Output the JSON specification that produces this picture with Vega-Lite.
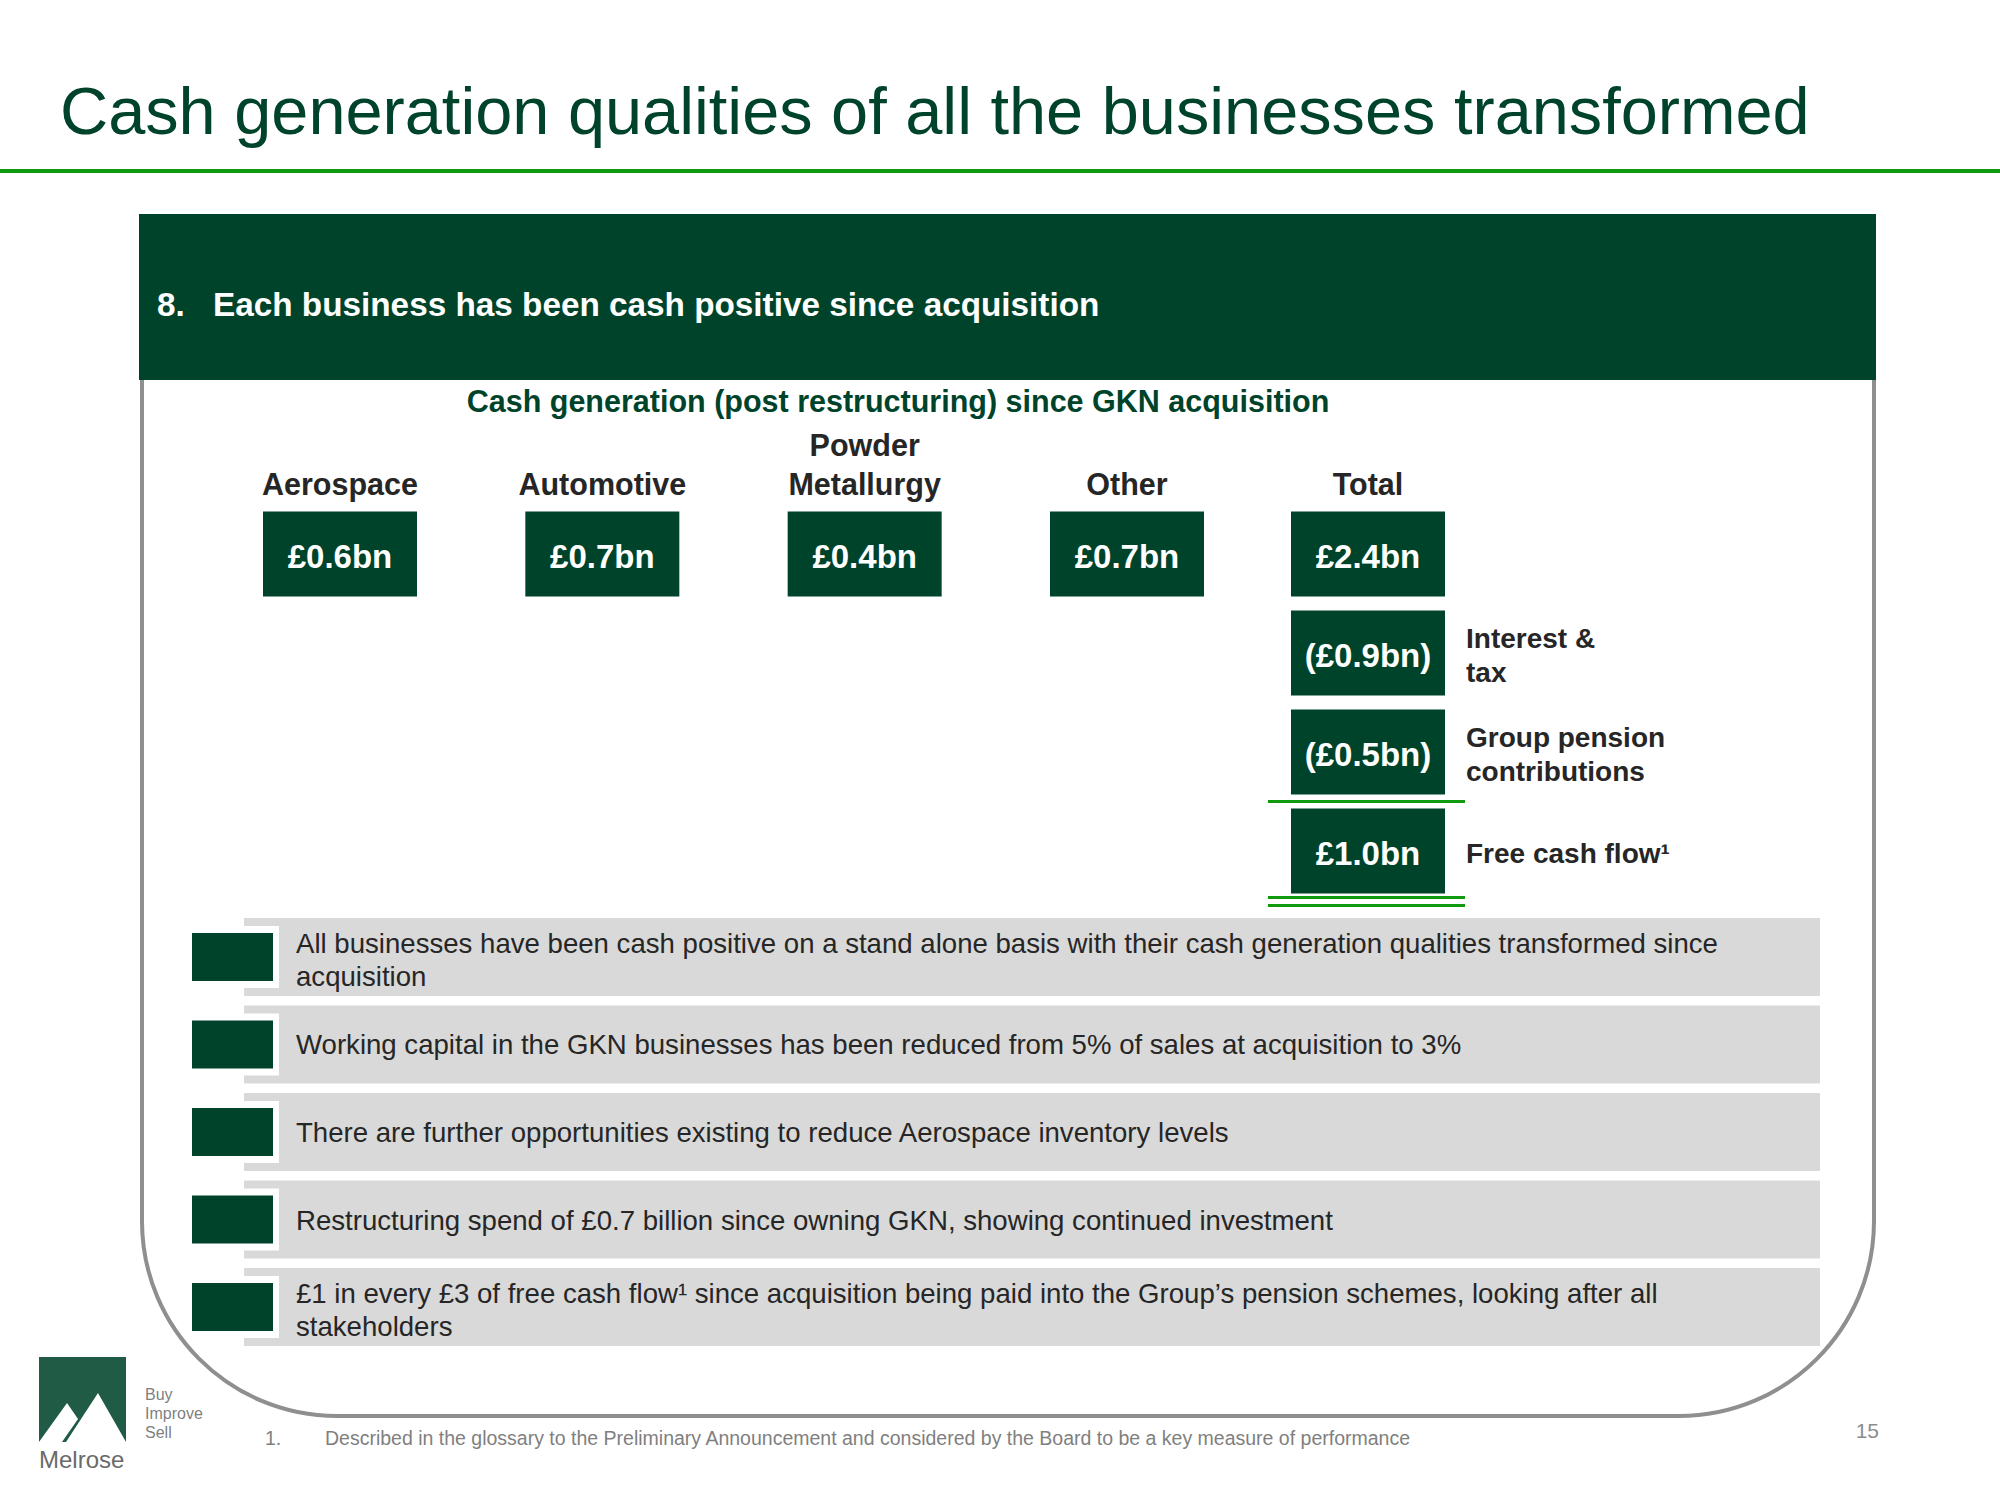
{
  "$schema": "https://vega.github.io/schema/vega-lite/v6.json",
  "width": 2000,
  "height": 1500,
  "padding": 0,
  "autosize": {"type": "none"},
  "background": "#ffffff",
  "config": {
    "view": {"stroke": null},
    "font": "Liberation Sans",
    "locale": {"number": {"decimal": ".", "thousands": ",", "grouping": [3], "currency": ["£", "bn"]}}
  },
  "datasets": {
    "cash": [
      {"segment": "Aerospace", "step": "Cash generation", "value": 0.6},
      {"segment": "Automotive", "step": "Cash generation", "value": 0.7},
      {"segment": "Powder Metallurgy", "step": "Cash generation", "value": 0.4},
      {"segment": "Other", "step": "Cash generation", "value": 0.7},
      {"segment": "Total", "step": "Cash generation", "value": 2.4},
      {"segment": "Total", "step": "Interest & tax", "value": -0.9, "note": "Interest &\ntax"},
      {"segment": "Total", "step": "Group pension contributions", "value": -0.5, "note": "Group pension\ncontributions"},
      {"segment": "Total", "step": "Free cash flow", "value": 1.0, "note": "Free cash flow¹"}
    ],
    "bullets": [
      {"order": 1, "text": "All businesses have been cash positive on a stand alone basis with their cash generation qualities transformed since\nacquisition"},
      {"order": 2, "text": "Working capital in the GKN businesses has been reduced from 5% of sales at acquisition to 3%"},
      {"order": 3, "text": "There are further opportunities existing to reduce Aerospace inventory levels"},
      {"order": 4, "text": "Restructuring spend of £0.7 billion since owning GKN, showing continued investment"},
      {"order": 5, "text": "£1 in every £3 of free cash flow¹ since acquisition being paid into the Group’s pension schemes, looking after all\nstakeholders"}
    ]
  },
  "layer": [
    {"data": {"values": [{}]}, "mark": {"type": "rect", "x": 0, "x2": 2000, "y": 169, "y2": 173, "fill": "#109A10"}},
    {"data": {"values": [{}]}, "mark": {"type": "text", "text": "Cash generation qualities of all the businesses transformed", "x": 60, "y": 134, "align": "left", "baseline": "alphabetic", "fontSize": 66.7, "fill": "#00432B"}},
    {"data": {"values": [{}]}, "mark": {"type": "rect", "x": 142, "x2": 1874, "y": 300, "y2": 1416, "filled": false, "fill": null, "stroke": "#8F8F8F", "strokeWidth": 4, "cornerRadiusBottomLeft": 195, "cornerRadiusBottomRight": 195}},
    {"data": {"values": [{}]}, "mark": {"type": "rect", "x": 139, "x2": 1876, "y": 214, "y2": 380, "fill": "#00432B"}},
    {"data": {"values": [{}]}, "mark": {"type": "text", "text": "8.", "x": 157, "y": 316, "align": "left", "baseline": "alphabetic", "fontSize": 33.3, "fontWeight": "bold", "fill": "#ffffff"}},
    {"data": {"values": [{}]}, "mark": {"type": "text", "text": "Each business has been cash positive since acquisition", "x": 213, "y": 316, "align": "left", "baseline": "alphabetic", "fontSize": 33.3, "fontWeight": "bold", "fill": "#ffffff"}},
    {"data": {"values": [{}]}, "mark": {"type": "text", "text": "Cash generation (post restructuring) since GKN acquisition", "x": 898, "y": 412, "align": "center", "baseline": "alphabetic", "fontSize": 30.5, "fontWeight": "bold", "fill": "#00432B"}},

    {"data": {"name": "cash"}, "transform": [{"filter": "datum.segment != 'Total'"}],
     "mark": {"type": "point", "shape": "M-1,-0.552H1V0.552H-1Z", "size": 23716, "filled": true, "opacity": 1, "fill": "#00432B", "strokeWidth": 0},
     "encoding": {
       "x": {"field": "segment", "type": "nominal", "axis": null, "scale": {"type": "point", "domain": ["Aerospace", "Automotive", "Powder Metallurgy", "Other"], "range": [340, 1127], "padding": 0}},
       "y": {"field": "step", "type": "nominal", "axis": null, "scale": {"type": "point", "domain": ["Cash generation", "Interest & tax", "Group pension contributions", "Free cash flow"], "range": [554, 851], "padding": 0}}
     }},
    {"data": {"name": "cash"}, "transform": [{"filter": "datum.segment != 'Total'"}],
     "mark": {"type": "text", "align": "center", "baseline": "middle", "dy": 4, "fontSize": 33, "fontWeight": "bold", "fill": "#ffffff"},
     "encoding": {
       "x": {"field": "segment", "type": "nominal", "axis": null, "scale": {"type": "point", "domain": ["Aerospace", "Automotive", "Powder Metallurgy", "Other"], "range": [340, 1127], "padding": 0}},
       "y": {"field": "step", "type": "nominal", "axis": null, "scale": {"type": "point", "domain": ["Cash generation", "Interest & tax", "Group pension contributions", "Free cash flow"], "range": [554, 851], "padding": 0}},
       "text": {"field": "value", "type": "quantitative", "format": "($.1f"}
     }},
    {"data": {"name": "cash"}, "transform": [{"filter": "datum.segment != 'Total' && datum.segment != 'Powder Metallurgy'"}],
     "mark": {"type": "text", "align": "center", "baseline": "bottom", "dy": -53, "fontSize": 30.5, "fontWeight": "bold", "fill": "#262626"},
     "encoding": {
       "x": {"field": "segment", "type": "nominal", "axis": null, "scale": {"type": "point", "domain": ["Aerospace", "Automotive", "Powder Metallurgy", "Other"], "range": [340, 1127], "padding": 0}},
       "y": {"field": "step", "type": "nominal", "axis": null, "scale": {"type": "point", "domain": ["Cash generation", "Interest & tax", "Group pension contributions", "Free cash flow"], "range": [554, 851], "padding": 0}},
       "text": {"field": "segment", "type": "nominal"}
     }},
    {"data": {"name": "cash"}, "transform": [{"filter": "datum.segment == 'Powder Metallurgy'"}],
     "mark": {"type": "text", "align": "center", "baseline": "bottom", "dy": -92, "lineBreak": " ", "lineHeight": 39, "fontSize": 30.5, "fontWeight": "bold", "fill": "#262626"},
     "encoding": {
       "x": {"field": "segment", "type": "nominal", "axis": null, "scale": {"type": "point", "domain": ["Aerospace", "Automotive", "Powder Metallurgy", "Other"], "range": [340, 1127], "padding": 0}},
       "y": {"field": "step", "type": "nominal", "axis": null, "scale": {"type": "point", "domain": ["Cash generation", "Interest & tax", "Group pension contributions", "Free cash flow"], "range": [554, 851], "padding": 0}},
       "text": {"field": "segment", "type": "nominal"}
     }},

    {"data": {"name": "cash"}, "transform": [{"filter": "datum.segment == 'Total'"}],
     "mark": {"type": "point", "shape": "M-1,-0.552H1V0.552H-1Z", "size": 23716, "filled": true, "opacity": 1, "fill": "#00432B", "strokeWidth": 0},
     "encoding": {
       "x": {"field": "segment", "type": "nominal", "axis": null, "scale": {"type": "point", "domain": ["Total"], "range": [1368, 1368], "padding": 0}},
       "y": {"field": "step", "type": "nominal", "axis": null, "scale": {"type": "point", "domain": ["Cash generation", "Interest & tax", "Group pension contributions", "Free cash flow"], "range": [554, 851], "padding": 0}}
     }},
    {"data": {"name": "cash"}, "transform": [{"filter": "datum.segment == 'Total'"}],
     "mark": {"type": "text", "align": "center", "baseline": "middle", "dy": 4, "fontSize": 33, "fontWeight": "bold", "fill": "#ffffff"},
     "encoding": {
       "x": {"field": "segment", "type": "nominal", "axis": null, "scale": {"type": "point", "domain": ["Total"], "range": [1368, 1368], "padding": 0}},
       "y": {"field": "step", "type": "nominal", "axis": null, "scale": {"type": "point", "domain": ["Cash generation", "Interest & tax", "Group pension contributions", "Free cash flow"], "range": [554, 851], "padding": 0}},
       "text": {"field": "value", "type": "quantitative", "format": "($.1f"}
     }},
    {"data": {"name": "cash"}, "transform": [{"filter": "datum.segment == 'Total' && datum.step == 'Cash generation'"}],
     "mark": {"type": "text", "align": "center", "baseline": "bottom", "dy": -53, "fontSize": 30.5, "fontWeight": "bold", "fill": "#262626"},
     "encoding": {
       "x": {"field": "segment", "type": "nominal", "axis": null, "scale": {"type": "point", "domain": ["Total"], "range": [1368, 1368], "padding": 0}},
       "y": {"field": "step", "type": "nominal", "axis": null, "scale": {"type": "point", "domain": ["Cash generation", "Interest & tax", "Group pension contributions", "Free cash flow"], "range": [554, 851], "padding": 0}},
       "text": {"field": "segment", "type": "nominal"}
     }},
    {"data": {"name": "cash"}, "transform": [{"filter": "datum.segment == 'Total' && (datum.step == 'Interest & tax' || datum.step == 'Group pension contributions')"}],
     "mark": {"type": "text", "align": "left", "baseline": "middle", "dx": 98, "dy": -13, "lineBreak": "\n", "lineHeight": 34, "fontSize": 28, "fontWeight": "bold", "fill": "#262626"},
     "encoding": {
       "x": {"field": "segment", "type": "nominal", "axis": null, "scale": {"type": "point", "domain": ["Total"], "range": [1368, 1368], "padding": 0}},
       "y": {"field": "step", "type": "nominal", "axis": null, "scale": {"type": "point", "domain": ["Cash generation", "Interest & tax", "Group pension contributions", "Free cash flow"], "range": [554, 851], "padding": 0}},
       "text": {"field": "note", "type": "nominal"}
     }},
    {"data": {"name": "cash"}, "transform": [{"filter": "datum.segment == 'Total' && datum.step == 'Free cash flow'"}],
     "mark": {"type": "text", "align": "left", "baseline": "middle", "dx": 98, "dy": 4, "fontSize": 28, "fontWeight": "bold", "fill": "#262626"},
     "encoding": {
       "x": {"field": "segment", "type": "nominal", "axis": null, "scale": {"type": "point", "domain": ["Total"], "range": [1368, 1368], "padding": 0}},
       "y": {"field": "step", "type": "nominal", "axis": null, "scale": {"type": "point", "domain": ["Cash generation", "Interest & tax", "Group pension contributions", "Free cash flow"], "range": [554, 851], "padding": 0}},
       "text": {"field": "note", "type": "nominal"}
     }},
    {"data": {"values": [{}]}, "mark": {"type": "rect", "x": 1268, "x2": 1465, "y": 800, "y2": 803, "fill": "#109A10"}},
    {"data": {"values": [{}]}, "mark": {"type": "rect", "x": 1268, "x2": 1465, "y": 896, "y2": 899, "fill": "#109A10"}},
    {"data": {"values": [{}]}, "mark": {"type": "rect", "x": 1268, "x2": 1465, "y": 904, "y2": 907, "fill": "#109A10"}},

    {"data": {"name": "bullets"},
     "mark": {"type": "rect", "x": 244, "x2": 1820, "fill": "#D9D9D9"},
     "encoding": {
       "y": {"field": "order", "type": "ordinal", "axis": null, "scale": {"type": "band", "domain": [1, 2, 3, 4, 5], "range": [918, 1346], "paddingInner": 0.11, "paddingOuter": 0}}
     }},
    {"data": {"name": "bullets"},
     "mark": {"type": "point", "x": 232.5, "shape": "M-1,-0.667H1V0.667H-1Z", "size": 8649, "filled": true, "opacity": 1, "fill": "#ffffff", "strokeWidth": 0},
     "encoding": {
       "y": {"field": "order", "type": "ordinal", "axis": null, "scale": {"type": "band", "domain": [1, 2, 3, 4, 5], "range": [918, 1346], "paddingInner": 0.11, "paddingOuter": 0}}
     }},
    {"data": {"name": "bullets"},
     "mark": {"type": "point", "x": 232.5, "shape": "M-1,-0.593H1V0.593H-1Z", "size": 6561, "filled": true, "opacity": 1, "fill": "#00432B", "strokeWidth": 0},
     "encoding": {
       "y": {"field": "order", "type": "ordinal", "axis": null, "scale": {"type": "band", "domain": [1, 2, 3, 4, 5], "range": [918, 1346], "paddingInner": 0.11, "paddingOuter": 0}}
     }},
    {"data": {"name": "bullets"}, "transform": [{"filter": "!test(/\\n/, datum.text)"}],
     "mark": {"type": "text", "x": 296, "align": "left", "baseline": "middle", "dy": 2, "fontSize": 27.6, "fill": "#262626"},
     "encoding": {
       "y": {"field": "order", "type": "ordinal", "axis": null, "scale": {"type": "band", "domain": [1, 2, 3, 4, 5], "range": [918, 1346], "paddingInner": 0.11, "paddingOuter": 0}},
       "text": {"field": "text", "type": "nominal"}
     }},
    {"data": {"name": "bullets"}, "transform": [{"filter": "test(/\\n/, datum.text)"}],
     "mark": {"type": "text", "x": 296, "align": "left", "baseline": "middle", "dy": -12, "lineBreak": "\n", "lineHeight": 33, "fontSize": 27.6, "fill": "#262626"},
     "encoding": {
       "y": {"field": "order", "type": "ordinal", "axis": null, "scale": {"type": "band", "domain": [1, 2, 3, 4, 5], "range": [918, 1346], "paddingInner": 0.11, "paddingOuter": 0}},
       "text": {"field": "text", "type": "nominal"}
     }},

    {"data": {"values": [{}]}, "mark": {"type": "rect", "x": 39, "x2": 126, "y": 1357, "y2": 1442, "fill": "#1F5B45"}},
    {"data": {"values": [{}]}, "mark": {"type": "point", "x": 82.5, "y": 1399.5, "shape": "M-1,0.977L-0.356,0.08L-0.103,0.448L-0.471,0.977ZM-0.379,0.977L0.356,-0.149L1,0.977Z", "size": 7569, "filled": true, "opacity": 1, "fill": "#ffffff", "strokeWidth": 0}, "encoding": {}},
    {"data": {"values": [{}]}, "mark": {"type": "text", "text": "Melrose", "x": 39, "y": 1468, "align": "left", "baseline": "alphabetic", "fontSize": 24, "fill": "#6A6A6A"}},
    {"data": {"values": [{}]}, "mark": {"type": "text", "text": ["Buy", "Improve", "Sell"], "x": 145, "y": 1400, "align": "left", "baseline": "alphabetic", "lineHeight": 19, "fontSize": 16, "fill": "#7F7F7F"}},
    {"data": {"values": [{}]}, "mark": {"type": "text", "text": "1.", "x": 265, "y": 1445, "align": "left", "baseline": "alphabetic", "fontSize": 19.5, "fill": "#7F7F7F"}},
    {"data": {"values": [{}]}, "mark": {"type": "text", "text": "Described in the glossary to the Preliminary Announcement and considered by the Board to be a key measure of performance", "x": 325, "y": 1445, "align": "left", "baseline": "alphabetic", "fontSize": 19.5, "fill": "#7F7F7F"}},
    {"data": {"values": [{}]}, "mark": {"type": "text", "text": "15", "x": 1879, "y": 1438, "align": "right", "baseline": "alphabetic", "fontSize": 21, "fill": "#8C8C8C"}}
  ],
  "resolve": {"scale": {"x": "independent", "y": "independent"}}
}
